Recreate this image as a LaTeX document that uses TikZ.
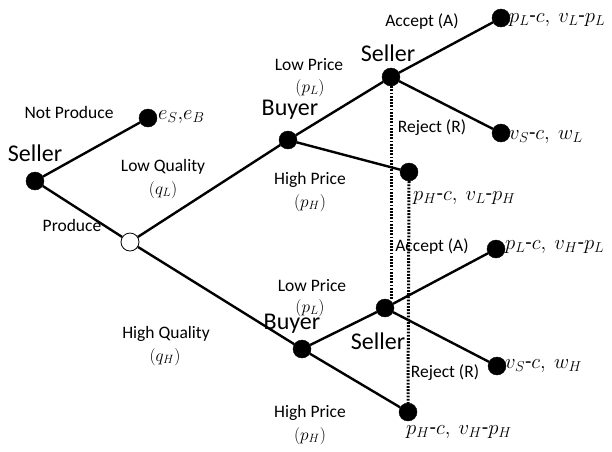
\documentclass[tikz,border=0pt]{standalone}
\usepackage{fontspec}
\setmainfont{Carlito}
\begin{document}
\begin{tikzpicture}[x=1pt,y=-1pt,
  decnode/.style={circle, fill=black, draw=black, minimum size=18pt, inner sep=0pt},
  chancenode/.style={circle, fill=white, draw=black, line width=0.8pt, minimum size=18pt, inner sep=0pt},
  edge/.style={line width=2.4pt},
  info/.style={line width=3pt, dash pattern=on 1.8pt off 1.4pt},
  lab/.style={font=\fontsize{17.5}{20}\selectfont, inner sep=0pt},
  plab/.style={font=\fontsize{18.5}{20}\selectfont, inner sep=0pt},
  big/.style={font=\fontsize{24}{26}\selectfont, inner sep=0pt},
  pay/.style={font=\fontsize{21}{23}\selectfont, anchor=west, inner sep=0pt}]
\useasboundingbox (0,0) rectangle (612,451);
% nodes
\node[decnode] (root) at (35,181) {};
\node[decnode] (np) at (148,118) {};
\node[chancenode] (ch) at (130,242) {};
\node[decnode] (bL) at (288,140) {};
\node[decnode] (sL) at (391,77) {};
\node[decnode] (aL) at (501,18) {};
\node[decnode] (rL) at (501,133) {};
\node[decnode] (hL) at (409,172) {};
\node[decnode] (bH) at (302,349) {};
\node[decnode] (sH) at (385,308) {};
\node[decnode] (aH) at (496,249) {};
\node[decnode] (rH) at (497,366) {};
\node[decnode] (hH) at (408,412) {};
% edges
\draw[edge] (root) -- (np);
\draw[edge] (root) -- (ch);
\draw[edge] (ch) -- (bL);
\draw[edge] (ch) -- (bH);
\draw[edge] (bL) -- (sL);
\draw[edge] (bL) -- (hL);
\draw[edge] (sL) -- (aL);
\draw[edge] (sL) -- (rL);
\draw[edge] (bH) -- (sH);
\draw[edge] (bH) -- (hH);
\draw[edge] (sH) -- (aH);
\draw[edge] (sH) -- (rH);
% information sets
\draw[info] (sL.south) -- (sL.south |- sH.north);
\draw[info] (hL.south) -- (hH.north);
% labels
\node[big] (tseller0) at (35,153) {Seller};
\node[lab] (tnp) at (69,112) {Not Produce};
\node[pay] (tenp) at (158,117) {$e_S{,}e_B$};
\node[lab] (tlq) at (163,167) {Low Quality};
\node[plab] (tqL) at (163,190) {$(q_L)$};
\node[lab] (tprod) at (72,225) {Produce};
\node[lab] (thq) at (166,334) {High Quality};
\node[plab] (tqH) at (165,357) {$(q_H)$};
\node[big] (tbuyerL) at (290,110) {Buyer};
\node[lab] (tlpL) at (309,65) {Low Price};
\node[plab] (tpLL) at (310,88) {$(p_L)$};
\node[lab] (thpL) at (310,180) {High Price};
\node[plab] (tpHL) at (310,203) {$(p_H)$};
\node[big] (tsellerL) at (388,53) {Seller};
\node[lab] (taccL) at (422,22) {Accept (A)};
\node[lab] (trejL) at (432,128) {Reject (R)};
\node[pay] (tpay1) at (509,20) {$p_L\mbox{-}c,\ v_L\mbox{-}p_L$};
\node[pay] (tpay2) at (509,137) {$v_S\mbox{-}c,\ w_L$};
\node[pay] (tpay3) at (413,198) {$p_H\mbox{-}c,\ v_L\mbox{-}p_H$};
\node[lab] (tlpH) at (312,286) {Low Price};
\node[plab] (tpLH) at (310,308) {$(p_L)$};
\node[big] (tbuyerH) at (292,324) {Buyer};
\node[big] (tsellerH) at (378,341) {Seller};
\node[lab] (taccH) at (432,247) {Accept (A)};
\node[lab] (trejH) at (445,373) {Reject (R)};
\node[pay] (tpay4) at (505,247) {$p_L\mbox{-}c,\ v_H\mbox{-}p_L$};
\node[pay] (tpay5) at (505,366) {$v_S\mbox{-}c,\ w_H$};
\node[lab] (thpH) at (310,413) {High Price};
\node[plab] (tpHH) at (310,436) {$(p_H)$};
\node[pay] (tpay6) at (406,432) {$p_H\mbox{-}c,\ v_H\mbox{-}p_H$};
\end{tikzpicture}
\end{document}
